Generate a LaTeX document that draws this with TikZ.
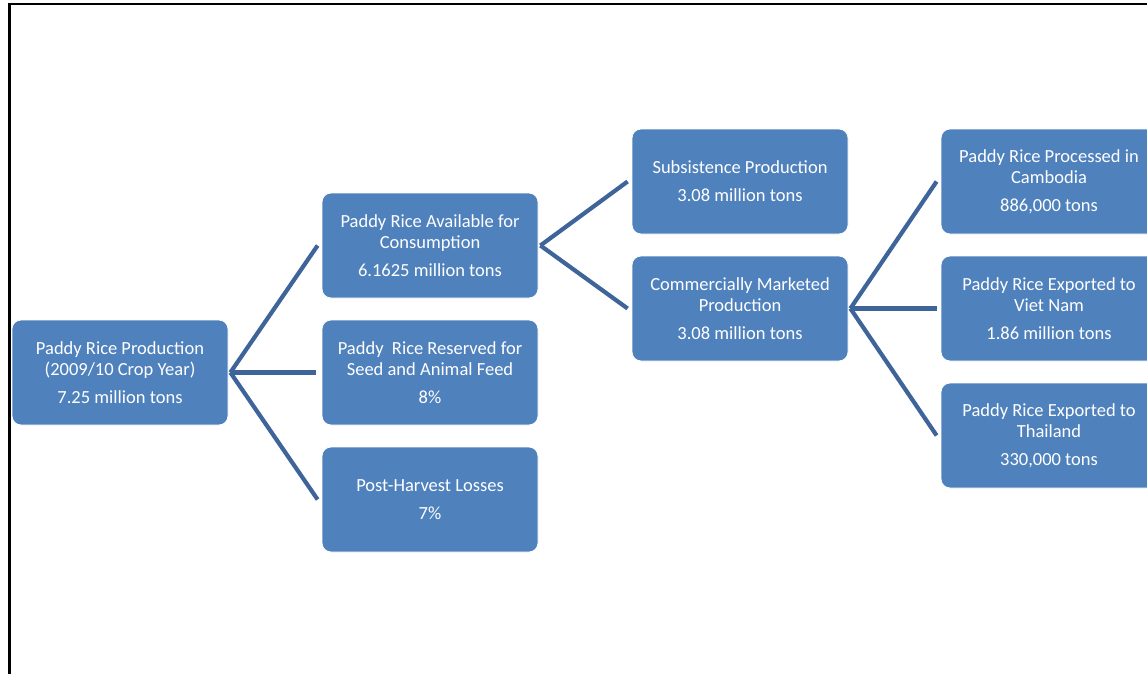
\documentclass[tikz,border=0pt]{standalone}
\usepackage{fontspec}
\setmainfont{Carlito}
\definecolor{boxfill}{RGB}{79,129,189}
\definecolor{linkcol}{RGB}{62,100,154}
\tikzset{
  box/.style={rectangle, rounded corners=9pt, minimum width=216pt, minimum height=105pt,
    fill=boxfill, draw=white, line width=0.8pt, text=white, inner sep=0pt, align=center,
    font=\fontsize{18.5}{21}\selectfont},
  link/.style={draw=linkcol, line width=4.2pt},
  frameline/.style={draw=black, line width=2.5pt}
}
\begin{document}
\begin{tikzpicture}[x=1pt,y=-1pt]
\useasboundingbox (0,0) rectangle (1147,674);
\clip (0,0) rectangle (1147,674);
\coordinate (fl) at (9.5,674);
\coordinate (ftl) at (9.5,4);
\coordinate (ftr) at (1160,4);
\draw[frameline] (fl) -- (ftl) -- (ftr);
\node[box] (A) at (120,372.5) {Paddy Rice Production\\(2009/10 Crop Year)\\[7pt]7.25 million tons};
\node[box] (B1) at (430,245.5) {Paddy Rice Available for\\Consumption\\[7pt]6.1625 million tons};
\node[box] (B2) at (430,372.5) {Paddy\ \ Rice Reserved for\\Seed and Animal Feed\\[7pt]8\%};
\node[box] (B3) at (430,499.5) {Post-Harvest Losses\\[7pt]7\%};
\node[box] (C1) at (740,181.5) {Subsistence Production\\[7pt]3.08 million tons};
\node[box] (C2) at (740,308.5) {Commercially Marketed\\Production\\[7pt]3.08 million tons};
\node[box] (D1) at (1049,181.5) {Paddy Rice Processed in\\Cambodia\\[7pt]886,000 tons};
\node[box] (D2) at (1049,308.5) {Paddy Rice Exported to\\Viet Nam\\[7pt]1.86 million tons};
\node[box] (D3) at (1049,435.5) {Paddy Rice Exported to\\Thailand\\[7pt]330,000 tons};
\draw[link] ([xshift=2pt]A.east) -- ([xshift=-4pt]B1.west);
\draw[link] ([xshift=2pt]A.east) -- ([xshift=-6pt]B2.west);
\draw[link] ([xshift=2pt]A.east) -- ([xshift=-4pt]B3.west);
\draw[link] ([xshift=2pt]B1.east) -- ([xshift=-4pt]C1.west);
\draw[link] ([xshift=2pt]B1.east) -- ([xshift=-4pt]C2.west);
\draw[link] ([xshift=2pt]C2.east) -- ([xshift=-4pt]D1.west);
\draw[link] ([xshift=2pt]C2.east) -- ([xshift=-4pt]D2.west);
\draw[link] ([xshift=2pt]C2.east) -- ([xshift=-4pt]D3.west);
\end{tikzpicture}
\end{document}
